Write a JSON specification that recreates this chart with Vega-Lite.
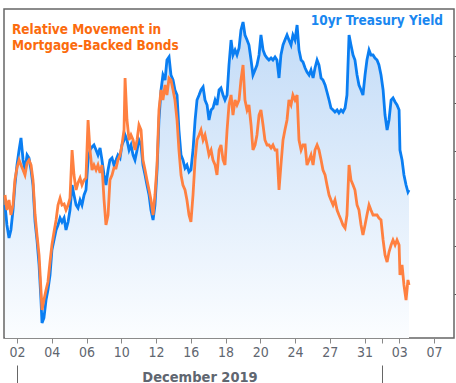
{
  "$schema": "https://vega.github.io/schema/vega-lite/v6.json",
  "width": 450,
  "height": 329,
  "autosize": {"type": "none"},
  "padding": {"left": 4, "top": 9, "right": 2, "bottom": 45},
  "background": "white",
  "config": {"view": {"stroke": "#666666", "strokeWidth": 1.5}, "font": "DejaVu Sans Condensed"},
  "data": {"values": [
    {"t": -0.69, "tsy": 1.33, "mbs": 1.43},
    {"t": -0.58, "tsy": 1.13, "mbs": 1.28},
    {"t": -0.46, "tsy": 1.00, "mbs": 1.38},
    {"t": -0.35, "tsy": 1.08, "mbs": 1.23},
    {"t": -0.23, "tsy": 1.28, "mbs": 1.33},
    {"t": -0.12, "tsy": 1.53, "mbs": 1.58},
    {"t": 0.00, "tsy": 1.73, "mbs": 1.70},
    {"t": 0.12, "tsy": 1.88, "mbs": 1.78},
    {"t": 0.23, "tsy": 2.00, "mbs": 1.73},
    {"t": 0.35, "tsy": 1.78, "mbs": 1.68},
    {"t": 0.46, "tsy": 1.68, "mbs": 1.63},
    {"t": 0.58, "tsy": 1.83, "mbs": 1.75},
    {"t": 0.69, "tsy": 1.80, "mbs": 1.78},
    {"t": 0.81, "tsy": 1.68, "mbs": 1.73},
    {"t": 0.92, "tsy": 1.53, "mbs": 1.58},
    {"t": 1.04, "tsy": 1.16, "mbs": 1.23},
    {"t": 1.15, "tsy": 0.98, "mbs": 1.03},
    {"t": 1.27, "tsy": 0.73, "mbs": 0.83},
    {"t": 1.38, "tsy": 0.38, "mbs": 0.48},
    {"t": 1.44, "tsy": 0.15, "mbs": 0.28},
    {"t": 1.55, "tsy": 0.20, "mbs": 0.38},
    {"t": 1.67, "tsy": 0.38, "mbs": 0.48},
    {"t": 1.78, "tsy": 0.48, "mbs": 0.56},
    {"t": 1.90, "tsy": 0.63, "mbs": 0.76},
    {"t": 2.01, "tsy": 0.88, "mbs": 0.93},
    {"t": 2.13, "tsy": 0.98, "mbs": 1.06},
    {"t": 2.25, "tsy": 1.08, "mbs": 1.18},
    {"t": 2.36, "tsy": 1.13, "mbs": 1.33},
    {"t": 2.48, "tsy": 1.20, "mbs": 1.40},
    {"t": 2.59, "tsy": 1.16, "mbs": 1.33},
    {"t": 2.71, "tsy": 1.20, "mbs": 1.34},
    {"t": 2.82, "tsy": 1.08, "mbs": 1.28},
    {"t": 2.94, "tsy": 1.16, "mbs": 1.33},
    {"t": 3.05, "tsy": 1.28, "mbs": 1.40},
    {"t": 3.17, "tsy": 1.53, "mbs": 1.88},
    {"t": 3.28, "tsy": 1.43, "mbs": 1.63},
    {"t": 3.40, "tsy": 1.33, "mbs": 1.48},
    {"t": 3.51, "tsy": 1.30, "mbs": 1.55},
    {"t": 3.63, "tsy": 1.38, "mbs": 1.60},
    {"t": 3.74, "tsy": 1.33, "mbs": 1.53},
    {"t": 3.86, "tsy": 1.43, "mbs": 1.58},
    {"t": 3.97, "tsy": 1.48, "mbs": 1.60},
    {"t": 4.09, "tsy": 1.78, "mbs": 2.18},
    {"t": 4.20, "tsy": 1.88, "mbs": 1.88},
    {"t": 4.32, "tsy": 1.91, "mbs": 1.68},
    {"t": 4.43, "tsy": 1.93, "mbs": 1.73},
    {"t": 4.55, "tsy": 1.88, "mbs": 1.68},
    {"t": 4.66, "tsy": 1.83, "mbs": 1.73},
    {"t": 4.78, "tsy": 1.90, "mbs": 1.65},
    {"t": 4.89, "tsy": 1.78, "mbs": 1.73},
    {"t": 5.01, "tsy": 1.63, "mbs": 1.38},
    {"t": 5.12, "tsy": 1.53, "mbs": 1.13},
    {"t": 5.24, "tsy": 1.68, "mbs": 1.23},
    {"t": 5.35, "tsy": 1.78, "mbs": 1.58},
    {"t": 5.47, "tsy": 1.80, "mbs": 1.63},
    {"t": 5.58, "tsy": 1.73, "mbs": 1.70},
    {"t": 5.70, "tsy": 1.78, "mbs": 1.70},
    {"t": 5.81, "tsy": 1.83, "mbs": 1.78},
    {"t": 5.93, "tsy": 1.80, "mbs": 1.83},
    {"t": 6.04, "tsy": 1.93, "mbs": 1.93},
    {"t": 6.16, "tsy": 1.98, "mbs": 2.08},
    {"t": 6.22, "tsy": 2.03, "mbs": 2.60},
    {"t": 6.33, "tsy": 1.98, "mbs": 2.18},
    {"t": 6.45, "tsy": 1.88, "mbs": 1.98},
    {"t": 6.56, "tsy": 1.93, "mbs": 2.03},
    {"t": 6.68, "tsy": 1.83, "mbs": 1.98},
    {"t": 6.79, "tsy": 1.78, "mbs": 1.88},
    {"t": 6.91, "tsy": 1.88, "mbs": 1.98},
    {"t": 7.02, "tsy": 1.98, "mbs": 2.13},
    {"t": 7.14, "tsy": 1.93, "mbs": 2.08},
    {"t": 7.25, "tsy": 1.73, "mbs": 1.78},
    {"t": 7.37, "tsy": 1.63, "mbs": 1.68},
    {"t": 7.48, "tsy": 1.53, "mbs": 1.58},
    {"t": 7.60, "tsy": 1.43, "mbs": 1.48},
    {"t": 7.71, "tsy": 1.28, "mbs": 1.38},
    {"t": 7.83, "tsy": 1.18, "mbs": 1.23},
    {"t": 7.94, "tsy": 1.33, "mbs": 1.43},
    {"t": 8.06, "tsy": 1.68, "mbs": 1.73},
    {"t": 8.17, "tsy": 2.18, "mbs": 2.28},
    {"t": 8.29, "tsy": 2.48, "mbs": 2.48},
    {"t": 8.40, "tsy": 2.63, "mbs": 2.38},
    {"t": 8.52, "tsy": 2.58, "mbs": 2.53},
    {"t": 8.63, "tsy": 2.78, "mbs": 2.43},
    {"t": 8.75, "tsy": 2.81, "mbs": 2.60},
    {"t": 8.86, "tsy": 2.63, "mbs": 2.58},
    {"t": 8.98, "tsy": 2.58, "mbs": 2.48},
    {"t": 9.09, "tsy": 2.48, "mbs": 2.38},
    {"t": 9.21, "tsy": 2.43, "mbs": 2.18},
    {"t": 9.32, "tsy": 2.08, "mbs": 1.88},
    {"t": 9.44, "tsy": 1.83, "mbs": 1.63},
    {"t": 9.55, "tsy": 1.78, "mbs": 1.53},
    {"t": 9.67, "tsy": 1.70, "mbs": 1.48},
    {"t": 9.78, "tsy": 1.73, "mbs": 1.38},
    {"t": 9.90, "tsy": 1.66, "mbs": 1.23},
    {"t": 10.01, "tsy": 1.68, "mbs": 1.16},
    {"t": 10.13, "tsy": 1.88, "mbs": 1.43},
    {"t": 10.25, "tsy": 2.18, "mbs": 1.78},
    {"t": 10.36, "tsy": 2.38, "mbs": 1.98},
    {"t": 10.48, "tsy": 2.43, "mbs": 2.03},
    {"t": 10.59, "tsy": 2.48, "mbs": 2.08},
    {"t": 10.71, "tsy": 2.51, "mbs": 1.98},
    {"t": 10.82, "tsy": 2.38, "mbs": 2.03},
    {"t": 10.94, "tsy": 2.33, "mbs": 1.93},
    {"t": 11.05, "tsy": 2.18, "mbs": 1.83},
    {"t": 11.17, "tsy": 2.28, "mbs": 1.88},
    {"t": 11.28, "tsy": 2.30, "mbs": 1.78},
    {"t": 11.40, "tsy": 2.38, "mbs": 1.73},
    {"t": 11.51, "tsy": 2.33, "mbs": 1.63},
    {"t": 11.63, "tsy": 2.48, "mbs": 1.88},
    {"t": 11.74, "tsy": 2.50, "mbs": 1.93},
    {"t": 11.86, "tsy": 2.43, "mbs": 1.78},
    {"t": 11.97, "tsy": 2.38, "mbs": 1.73},
    {"t": 12.09, "tsy": 2.43, "mbs": 2.08},
    {"t": 12.20, "tsy": 2.73, "mbs": 2.33},
    {"t": 12.32, "tsy": 2.98, "mbs": 2.43},
    {"t": 12.43, "tsy": 2.83, "mbs": 2.23},
    {"t": 12.55, "tsy": 2.88, "mbs": 2.38},
    {"t": 12.66, "tsy": 2.83, "mbs": 2.33},
    {"t": 12.78, "tsy": 2.90, "mbs": 2.38},
    {"t": 12.89, "tsy": 3.08, "mbs": 2.58},
    {"t": 13.01, "tsy": 3.16, "mbs": 2.73},
    {"t": 13.12, "tsy": 3.03, "mbs": 2.38},
    {"t": 13.24, "tsy": 2.98, "mbs": 2.28},
    {"t": 13.35, "tsy": 2.93, "mbs": 2.33},
    {"t": 13.47, "tsy": 2.78, "mbs": 2.13},
    {"t": 13.58, "tsy": 2.63, "mbs": 1.88},
    {"t": 13.70, "tsy": 2.68, "mbs": 1.93},
    {"t": 13.81, "tsy": 2.73, "mbs": 2.03},
    {"t": 13.93, "tsy": 2.83, "mbs": 2.23},
    {"t": 14.04, "tsy": 3.03, "mbs": 2.28},
    {"t": 14.16, "tsy": 2.88, "mbs": 2.13},
    {"t": 14.27, "tsy": 2.83, "mbs": 1.98},
    {"t": 14.39, "tsy": 2.80, "mbs": 1.93},
    {"t": 14.50, "tsy": 2.78, "mbs": 1.93},
    {"t": 14.62, "tsy": 2.80, "mbs": 1.90},
    {"t": 14.73, "tsy": 2.78, "mbs": 1.93},
    {"t": 14.85, "tsy": 2.81, "mbs": 1.88},
    {"t": 14.96, "tsy": 2.78, "mbs": 1.88},
    {"t": 15.08, "tsy": 2.60, "mbs": 1.48},
    {"t": 15.19, "tsy": 2.83, "mbs": 1.73},
    {"t": 15.31, "tsy": 2.93, "mbs": 1.98},
    {"t": 15.42, "tsy": 2.98, "mbs": 2.08},
    {"t": 15.54, "tsy": 3.03, "mbs": 2.18},
    {"t": 15.65, "tsy": 2.98, "mbs": 2.38},
    {"t": 15.77, "tsy": 2.93, "mbs": 2.33},
    {"t": 15.88, "tsy": 3.03, "mbs": 2.43},
    {"t": 16.00, "tsy": 2.98, "mbs": 2.38},
    {"t": 16.12, "tsy": 3.13, "mbs": 2.43},
    {"t": 16.23, "tsy": 2.88, "mbs": 1.98},
    {"t": 16.35, "tsy": 2.78, "mbs": 1.88},
    {"t": 16.46, "tsy": 2.76, "mbs": 1.93},
    {"t": 16.58, "tsy": 2.70, "mbs": 1.93},
    {"t": 16.69, "tsy": 2.66, "mbs": 1.73},
    {"t": 16.81, "tsy": 2.63, "mbs": 1.78},
    {"t": 16.92, "tsy": 2.68, "mbs": 1.83},
    {"t": 17.04, "tsy": 2.60, "mbs": 1.73},
    {"t": 17.15, "tsy": 2.70, "mbs": 1.88},
    {"t": 17.27, "tsy": 2.78, "mbs": 1.93},
    {"t": 17.38, "tsy": 2.73, "mbs": 1.88},
    {"t": 17.50, "tsy": 2.60, "mbs": 1.78},
    {"t": 17.61, "tsy": 2.58, "mbs": 1.68},
    {"t": 17.73, "tsy": 2.53, "mbs": 1.63},
    {"t": 17.84, "tsy": 2.46, "mbs": 1.53},
    {"t": 17.96, "tsy": 2.38, "mbs": 1.43},
    {"t": 18.07, "tsy": 2.30, "mbs": 1.38},
    {"t": 18.19, "tsy": 2.28, "mbs": 1.33},
    {"t": 18.30, "tsy": 2.26, "mbs": 1.38},
    {"t": 18.42, "tsy": 2.28, "mbs": 1.28},
    {"t": 18.53, "tsy": 2.25, "mbs": 1.23},
    {"t": 18.65, "tsy": 2.28, "mbs": 1.18},
    {"t": 18.76, "tsy": 2.26, "mbs": 1.13},
    {"t": 18.88, "tsy": 2.30, "mbs": 1.10},
    {"t": 18.99, "tsy": 2.43, "mbs": 1.23},
    {"t": 19.11, "tsy": 3.03, "mbs": 1.73},
    {"t": 19.22, "tsy": 2.93, "mbs": 1.58},
    {"t": 19.34, "tsy": 2.83, "mbs": 1.53},
    {"t": 19.45, "tsy": 2.78, "mbs": 1.48},
    {"t": 19.57, "tsy": 2.63, "mbs": 1.33},
    {"t": 19.68, "tsy": 2.53, "mbs": 1.28},
    {"t": 19.80, "tsy": 2.48, "mbs": 1.13},
    {"t": 19.91, "tsy": 2.43, "mbs": 1.03},
    {"t": 20.03, "tsy": 2.63, "mbs": 1.13},
    {"t": 20.14, "tsy": 2.78, "mbs": 1.23},
    {"t": 20.26, "tsy": 2.88, "mbs": 1.33},
    {"t": 20.37, "tsy": 2.83, "mbs": 1.28},
    {"t": 20.49, "tsy": 2.83, "mbs": 1.23},
    {"t": 20.60, "tsy": 2.80, "mbs": 1.23},
    {"t": 20.72, "tsy": 2.78, "mbs": 1.23},
    {"t": 20.83, "tsy": 2.73, "mbs": 1.20},
    {"t": 20.95, "tsy": 2.63, "mbs": 1.18},
    {"t": 21.07, "tsy": 2.48, "mbs": 0.98},
    {"t": 21.18, "tsy": 2.23, "mbs": 0.83},
    {"t": 21.30, "tsy": 2.08, "mbs": 0.76},
    {"t": 21.41, "tsy": 2.18, "mbs": 0.86},
    {"t": 21.53, "tsy": 2.38, "mbs": 0.93},
    {"t": 21.64, "tsy": 2.40, "mbs": 0.98},
    {"t": 21.76, "tsy": 2.36, "mbs": 0.93},
    {"t": 21.87, "tsy": 2.33, "mbs": 0.98},
    {"t": 21.99, "tsy": 2.28, "mbs": 0.93},
    {"t": 22.04, "tsy": 1.88, "mbs": 0.63},
    {"t": 22.16, "tsy": 1.78, "mbs": 0.73},
    {"t": 22.27, "tsy": 1.63, "mbs": 0.53},
    {"t": 22.39, "tsy": 1.53, "mbs": 0.38},
    {"t": 22.50, "tsy": 1.46, "mbs": 0.58},
    {"t": 22.56, "tsy": 1.48, "mbs": 0.53}
  ]},
  "layer": [
    {
      "mark": {"type": "area", "color": {"gradient": "linear", "x1": 0, "y1": 0, "x2": 0, "y2": 1, "stops": [{"offset": 0, "color": "#c2dbf7"}, {"offset": 1, "color": "#fbfdff"}]}},
      "encoding": {
        "x": {"field": "t", "type": "quantitative", "scale": {"domain": [-0.748, 25.15], "nice": false, "zero": false},
          "axis": {"orient": "bottom", "values": [0, 2, 4, 6, 8, 10, 12, 14, 16, 18, 20, 21, 22, 24],
            "labelExpr": "['02','03','04','05','06','09','10','11','12','13','16','17','18','19','20','23','24','26','27','30','31','','03','06','07'][datum.value]",
            "tickSize": 5, "tickColor": "#888888", "domain": false, "grid": false,
            "labelFont": "DejaVu Sans Condensed", "labelFontSize": 14, "labelColor": "#5f6670", "labelPadding": 2,
            "labelFlush": false, "labelOverlap": false,
            "title": "December 2019", "titleFont": "DejaVu Sans Condensed", "titleFontSize": 14.5, "titleFontWeight": "bold",
            "titleColor": "#5f6670", "titleX": 195.5, "titleY": 43, "titleBaseline": "alphabetic"}},
        "y": {"field": "tsy", "type": "quantitative", "scale": {"domain": [0, 3.29], "nice": false, "zero": false},
          "axis": {"orient": "right", "values": [0.445, 0.92, 1.395, 1.87, 2.345, 2.82], "labels": false, "domain": false, "grid": false, "tickSize": 3, "tickColor": "#555555", "title": null}}
      }
    },
    {
      "mark": {"type": "line", "color": "#0a7ef2", "strokeWidth": 2.8},
      "encoding": {
        "x": {"field": "t", "type": "quantitative", "scale": {"domain": [-0.748, 25.15], "nice": false, "zero": false},
          "axis": {"orient": "bottom", "values": [0, 21], "tickSize": 18, "offset": 27, "labels": false, "domain": false, "grid": false, "tickColor": "#666666", "title": null}},
        "y": {"field": "tsy", "type": "quantitative", "scale": {"domain": [0, 3.29], "nice": false, "zero": false}, "axis": null}
      }
    },
    {
      "mark": {"type": "line", "color": "#ff8040", "strokeWidth": 2.8},
      "encoding": {
        "x": {"field": "t", "type": "quantitative", "scale": {"domain": [-0.748, 25.15], "nice": false, "zero": false}, "axis": null},
        "y": {"field": "mbs", "type": "quantitative", "scale": {"domain": [0, 3.29], "nice": false, "zero": false}, "axis": null}
      }
    },
    {
      "data": {"values": [{}]},
      "mark": {"type": "text", "text": ["Relative Movement in", "Mortgage-Backed Bonds"], "align": "left", "baseline": "alphabetic", "font": "DejaVu Sans Condensed", "fontWeight": "bold", "fontSize": 13.5, "lineHeight": 16, "color": "#fb6b0e"},
      "encoding": {
        "x": {"datum": -0.29, "type": "quantitative", "scale": {"domain": [-0.748, 25.15], "nice": false, "zero": false}, "axis": null},
        "y": {"datum": 3.04, "type": "quantitative", "scale": {"domain": [0, 3.29], "nice": false, "zero": false}, "axis": null}
      }
    },
    {
      "data": {"values": [{}]},
      "mark": {"type": "text", "text": "10yr Treasury Yield", "align": "right", "baseline": "alphabetic", "font": "DejaVu Sans Condensed", "fontWeight": "bold", "fontSize": 13.5, "color": "#1a87f0"},
      "encoding": {
        "x": {"datum": 24.52, "type": "quantitative", "scale": {"domain": [-0.748, 25.15], "nice": false, "zero": false}, "axis": null},
        "y": {"datum": 3.13, "type": "quantitative", "scale": {"domain": [0, 3.29], "nice": false, "zero": false}, "axis": null}
      }
    }
  ],
  "resolve": {"axis": {"x": "independent", "y": "independent"}}
}
